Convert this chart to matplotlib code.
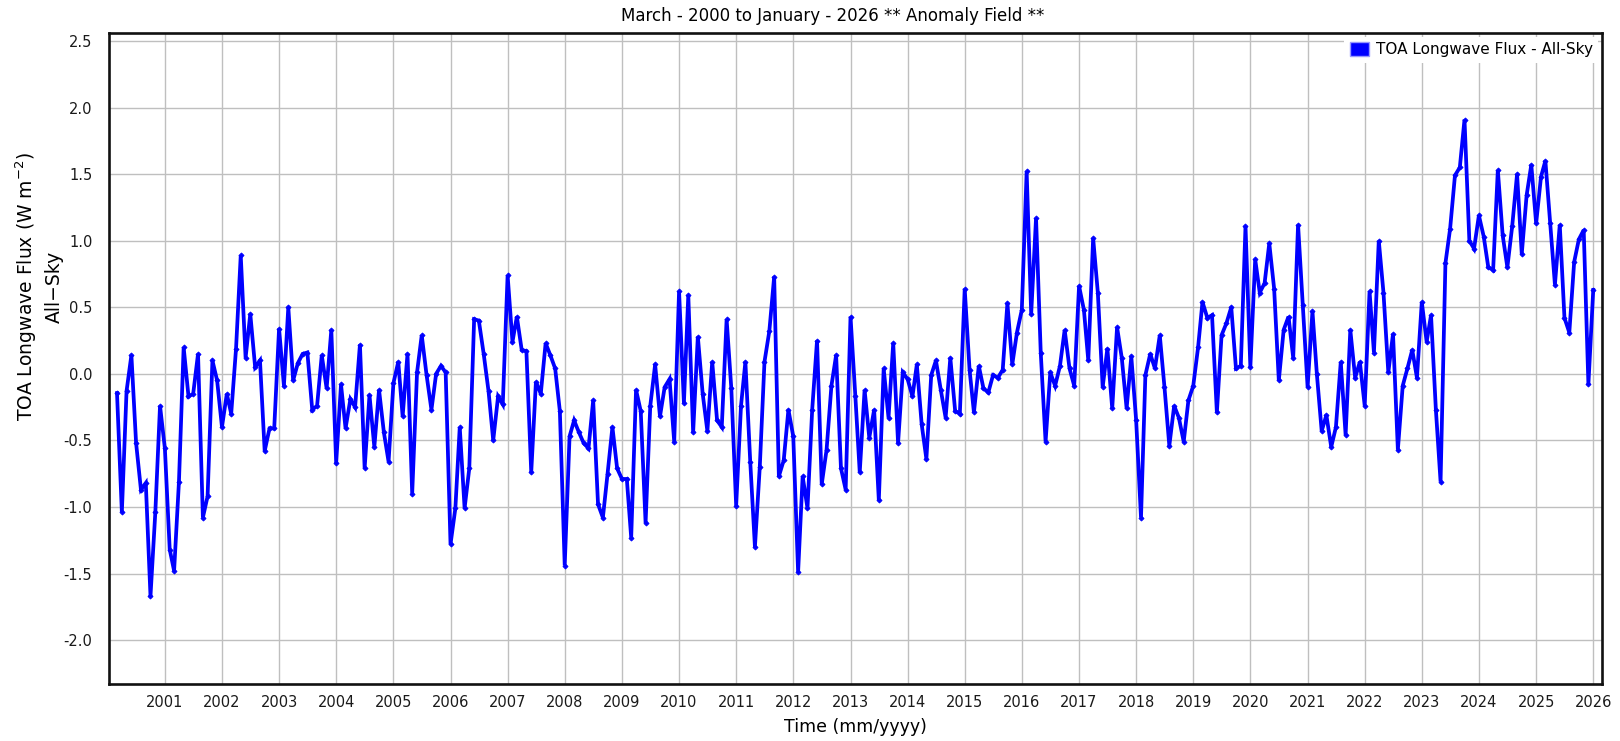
import matplotlib
matplotlib.use("Agg")
import matplotlib.pyplot as plt
import matplotlib.dates as mdates
import matplotlib.patches as mpatches
import pandas as pd

# Monthly TOA longwave flux anomalies (W m-2), March 2000 .. January 2026
start_month = "2000-03-01"
anomaly = [
    # 2000-03 .. 2003-05
    -0.145, -1.04, -0.13, 0.14, -0.52, -0.87, -0.82, -1.67, -1.04, -0.24,
    -0.56, -1.32, -1.48, -0.81, 0.20, -0.17, -0.15, 0.15, -1.08, -0.92,
    0.10, -0.05, -0.40, -0.15, -0.30, 0.19, 0.89, 0.12, 0.45, 0.05,
    0.10, -0.58, -0.41, -0.41, 0.34, -0.09, 0.50, -0.05, 0.08,
    # 2003-06 .. 2006-09
    0.15, 0.16, -0.27, -0.24, 0.14, -0.11, 0.33, -0.67, -0.08, -0.41,
    -0.19, -0.25, 0.22, -0.71, -0.16, -0.55, -0.12, -0.44, -0.66, -0.07,
    0.09, -0.32, 0.15, -0.90, 0.01, 0.29, -0.01, -0.27, 0.00, 0.06,
    0.01, -1.28, -1.01, -0.40, -1.01, -0.71, 0.41, 0.40, 0.15, -0.13,
    # 2006-10 .. 2010-01
    -0.50, -0.17, -0.23, 0.74, 0.24, 0.43, 0.18, 0.17, -0.74, -0.06,
    -0.15, 0.23, 0.14, 0.04, -0.28, -1.44, -0.47, -0.35, -0.44, -0.52,
    -0.56, -0.20, -0.98, -1.08, -0.75, -0.40, -0.71, -0.79, -0.79, -1.23,
    -0.12, -0.28, -1.12, -0.24, 0.07, -0.32, -0.10, -0.04, -0.51, 0.62,
    # 2010-02 .. 2013-05
    -0.22, 0.59, -0.44, 0.28, -0.15, -0.43, 0.09, -0.35, -0.40, 0.41,
    -0.11, -0.99, -0.24, 0.09, -0.66, -1.30, -0.70, 0.09, 0.32, 0.73,
    -0.77, -0.65, -0.27, -0.47, -1.49, -0.77, -1.01, -0.27, 0.25, -0.83,
    -0.57, -0.09, 0.14, -0.71, -0.87, 0.43, -0.17, -0.74, -0.12, -0.48,
    # 2013-06 .. 2016-09
    -0.27, -0.95, 0.04, -0.33, 0.23, -0.52, 0.01, -0.04, -0.17, 0.07,
    -0.38, -0.64, -0.01, 0.10, -0.12, -0.33, 0.12, -0.28, -0.30, 0.64,
    0.03, -0.29, 0.06, -0.11, -0.14, -0.01, -0.03, 0.03, 0.53, 0.07,
    0.31, 0.48, 1.52, 0.45, 1.17, 0.16, -0.51, 0.01, -0.09, 0.06,
    # 2016-10 .. 2020-01
    0.33, 0.04, -0.09, 0.66, 0.48, 0.10, 1.02, 0.61, -0.10, 0.19,
    -0.26, 0.35, 0.12, -0.26, 0.13, -0.35, -1.08, -0.01, 0.15, 0.04,
    0.29, -0.10, -0.54, -0.24, -0.33, -0.51, -0.20, -0.09, 0.20, 0.54,
    0.42, 0.44, -0.29, 0.29, 0.38, 0.50, 0.04, 0.06, 1.11, 0.05,
    # 2020-02 .. 2023-05
    0.86, 0.61, 0.68, 0.98, 0.64, -0.05, 0.33, 0.43, 0.12, 1.12,
    0.52, -0.10, 0.47, 0.00, -0.43, -0.31, -0.55, -0.40, 0.09, -0.46,
    0.33, -0.03, 0.09, -0.24, 0.62, 0.16, 1.00, 0.61, 0.01, 0.30,
    -0.57, -0.09, 0.04, 0.18, -0.03, 0.54, 0.24, 0.44, -0.27, -0.81,
    # 2023-06 .. 2026-01
    0.83, 1.09, 1.49, 1.55, 1.91, 1.00, 0.94, 1.19, 1.03, 0.80,
    0.78, 1.53, 1.04, 0.80, 1.11, 1.50, 0.90, 1.34, 1.57, 1.13,
    1.48, 1.60, 1.13, 0.67, 1.12, 0.42, 0.31, 0.84, 1.01, 1.08,
    -0.08, 0.63,
]
year_ticks = list(range(2001, 2027))
y_ticks = [-2.0, -1.5, -1.0, -0.5, 0.0, 0.5, 1.0, 1.5, 2.0, 2.5]

series_label = "TOA Longwave Flux - All-Sky"
title_text = "March - 2000 to January - 2026 ** Anomaly Field **"

months = pd.date_range(start_month, periods=len(anomaly), freq="MS")

fig = plt.figure(figsize=(16.2, 7.41), dpi=100)
ax = fig.add_axes([0.0673, 0.0769, 0.9214, 0.8786])

line_color = "#0000ff"
ax.plot(months, anomaly, color=line_color, linewidth=2.7,
        marker="D", markersize=2.6, markeredgewidth=0.6,
        markerfacecolor=line_color, markeredgecolor=line_color,
        solid_joinstyle="miter", zorder=3)

ax.set_xlim(pd.Timestamp("2000-01-10"), pd.Timestamp("2026-02-24"))
ax.set_ylim(-2.33, 2.56)

ax.set_xticks([pd.Timestamp(f"{y}-01-01") for y in year_ticks])
ax.xaxis.set_major_formatter(mdates.DateFormatter("%Y"))
ax.set_yticks(y_ticks)
ax.set_yticklabels([f"{v:.1f}" for v in y_ticks])

ax.tick_params(axis="both", length=0, labelsize=10.5, colors="#1a1a1a")
ax.tick_params(axis="x", pad=8)
ax.tick_params(axis="y", pad=12)

ax.grid(True, color="#bfbfbf", linewidth=1.0, zorder=0)
for sp in ax.spines.values():
    sp.set_linewidth(1.9)
    sp.set_color("#111111")

ax.set_xlabel("Time (mm/yyyy)", fontsize=12.5, labelpad=6)
ax.set_ylabel("TOA Longwave Flux (W m$^{-2}$)\nAll\u2212Sky", fontsize=13.5,
              linespacing=1.4)
ax.yaxis.set_label_coords(-0.030, 0.61)

fig.text(0.514, 0.978, title_text, ha="center", va="center", fontsize=12)

handle = mpatches.Patch(facecolor=line_color, edgecolor="#9999ff", label=series_label)
leg = ax.legend(handles=[handle], loc="upper right", fontsize=11,
                frameon=True, framealpha=1.0, edgecolor="none",
                fancybox=False, handlelength=1.3, handleheight=1.0,
                handletextpad=0.4, borderaxespad=0.25, borderpad=0.35)

fig.savefig("out.png", dpi=100, facecolor="white")
